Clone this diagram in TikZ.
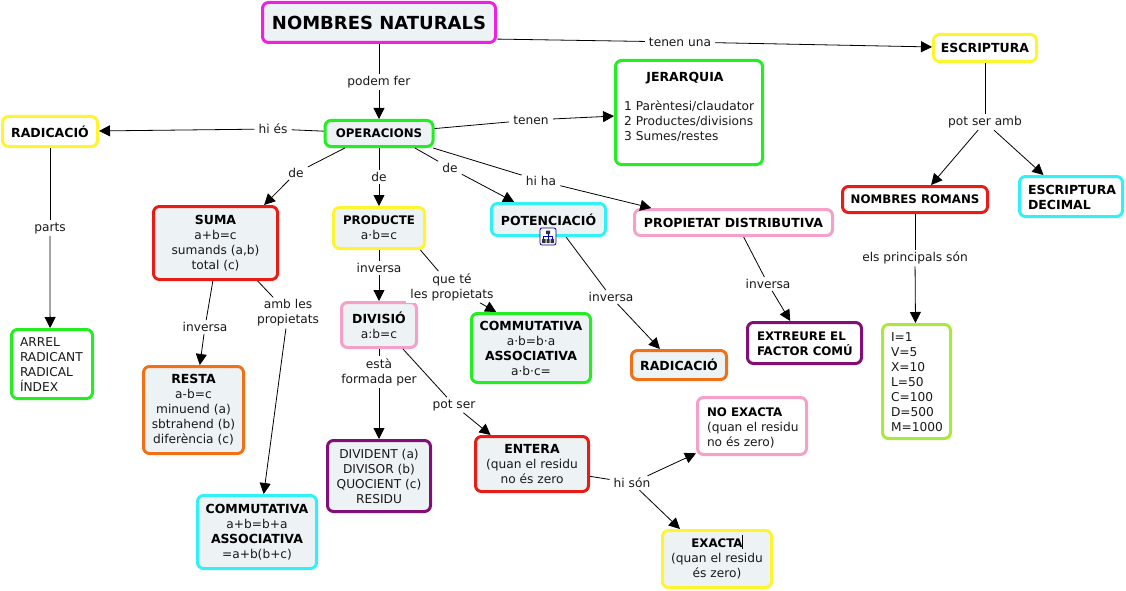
\documentclass[tikz,border=0pt]{standalone}
\usepackage{fontspec}
\setmainfont{DejaVu Sans}
\usetikzlibrary{arrows.meta}
\definecolor{bgbox}{HTML}{EDF2F5}
\definecolor{cMag}{HTML}{F020E0}
\definecolor{cGreen}{HTML}{22EE22}
\definecolor{cYel}{HTML}{FFF430}
\definecolor{cRed}{HTML}{E81C14}
\definecolor{cCyan}{HTML}{30F0F8}
\definecolor{cPink}{HTML}{F4A0C8}
\definecolor{cOra}{HTML}{F07018}
\definecolor{cPur}{HTML}{800F78}
\definecolor{cLime}{HTML}{A8E840}
\tikzset{
  box/.style={draw=#1,fill=bgbox,line width=3pt,rounded corners=6pt,inner sep=0pt,align=center,
    font=\fontsize{12.2}{15}\selectfont,text=black!90,outer sep=1.5pt},
  wbox/.style={box=#1,fill=white},
  sz/.style 2 args={minimum width=#1pt-3pt,minimum height=#2pt-3pt},
  lbl/.style={fill=white,inner xsep=4pt,inner ysep=2pt,align=center,font=\fontsize{12.2}{15}\selectfont,text=black!90},
  con/.style={line width=0.8pt,black},
  arr/.style={line width=0.8pt,black,-{Triangle[length=11pt,width=11pt]}},
}
\newcommand{\hd}[1]{{\fontsize{12.5}{15}\selectfont\bfseries\textcolor{black}{#1}}}
\newcommand{\hds}[1]{{\fontsize{11.8}{15}\selectfont\bfseries\textcolor{black}{#1}}}
\newcommand{\lblock}[2]{\raisebox{-2pt}[\height][\depth]{\makebox[#1pt][l]{\begin{tabular}{@{}l@{}}#2\end{tabular}}}}
\begin{document}
\begin{tikzpicture}[x=1pt,y=-1pt]
\useasboundingbox (0,0) rectangle (1126,591);
% nodes
\node[box=cMag,sz={236}{43},font=\fontsize{18}{22}\selectfont\bfseries,text=black] (nn) at (379,22.5) {NOMBRES NATURALS};
\node[box=cGreen,sz={111}{29}] (op) at (379,133.5) {\hds{OPERACIONS}};
\node[wbox=cYel,sz={98}{33}] (radl) at (50,131.5) {\hd{RADICACIÓ}};
\node[wbox=cGreen,sz={150}{107}] (jer) at (689,112.5) {};
\node[font=\fontsize{12.2}{15}\selectfont,anchor=north,inner sep=0pt] (jert) at (685,72) {\hd{JERARQUIA}};
\node[font=\fontsize{12.2}{15}\selectfont,text=black!90,anchor=north west,inner sep=0pt,align=left] (jerl) at (624,101) {1 Parèntesi/claudator\\2 Productes/divisions\\3 Sumes/restes};
\node[wbox=cYel,sz={106}{30}] (esc) at (985,48) {\hd{ESCRIPTURA}};
\node[wbox=cRed,sz={148}{29}] (rom) at (915,199.5) {\hds{NOMBRES ROMANS}};
\node[wbox=cCyan,sz={106}{43}] (dec) at (1071,196.5) {\lblock{86}{\hd{ESCRIPTURA}\\\hd{DECIMAL}}};
\node[box=cRed,sz={127}{76}] (suma) at (215.5,243) {\hd{SUMA}\\a+b=c\\sumands (a,b)\\total (c)};
\node[box=cYel,sz={94}{44}] (prod) at (379,228) {\hds{PRODUCTE}\\a·b=c};
\node[box=cCyan,sz={117}{35}] (pot) at (548.5,219.5) {\hd{POTENCIACIÓ}};
\node[wbox=cPink,sz={201}{29}] (dist) at (733.5,222.5) {\fontsize{12.6}{15}\selectfont\hd{PROPIETAT DISTRIBUTIVA}};
\node[wbox=cGreen,sz={84}{72}] (arrel) at (52,364) {\lblock{64}{ARREL\\RADICANT\\RADICAL\\ÍNDEX}};
\node[box=cOra,sz={103}{90}] (resta) at (193.5,410) {\hd{RESTA}\\a-b=c\\minuend (a)\\sbtrahend (b)\\diferència (c)};
\node[box=cCyan,sz={122}{76}] (com1) at (257,532) {\hd{COMMUTATIVA}\\a+b=b+a\\\hd{ASSOCIATIVA}\\=a+b(b+c)};
\node[box=cPink,sz={78}{48}] (div) at (379,325) {\hd{DIVISIÓ}\\a:b=c};
\node[box=cGreen,sz={122}{72}] (com2) at (531,348) {\hd{COMMUTATIVA}\\a·b=b·a\\\hd{ASSOCIATIVA}\\a·b·c=};
\node[box=cPur,sz={106}{74}] (dvd) at (379,476) {DIVIDENT (a)\\DIVISOR (b)\\QUOCIENT (c)\\RESIDU};
\node[box=cRed,sz={116}{58}] (ent) at (532,464) {\hd{ENTERA}\\(quan el residu\\no és zero};
\node[box=cOra,sz={98}{32}] (radm) at (679,365) {\hd{RADICACIÓ}};
\node[wbox=cPur,sz={117}{44}] (ext) at (804.5,343) {\lblock{95}{\hds{EXTREURE EL}\\\hds{FACTOR COMÚ}}};
\node[wbox=cPink,sz={112}{60}] (nex) at (752,426) {\lblock{90}{\hds{NO EXACTA}\\(quan el residu\\no és zero)}};
\node[box=cYel,sz={112}{60}] (exa) at (717,559) {\hds{EXACTA}\\(quan el residu\\és zero)};
\node[wbox=cLime,sz={71}{117}] (num) at (916.5,381.5) {\lblock{51}{I=1\\V=5\\X=10\\L=50\\C=100\\D=500\\M=1000}};
% labels
\node[lbl] (l1) at (680,42) {tenen una};
\node[lbl] (l2) at (379,82) {podem fer};
\node[lbl] (l3) at (273,129) {hi és};
\node[lbl] (l4) at (531,120) {tenen};
\node[lbl] (l5) at (985,122) {pot ser amb};
\node[lbl] (l6) at (296,173) {de};
\node[lbl] (l7) at (379,177) {de};
\node[lbl] (l8) at (450,168) {de};
\node[lbl] (l9) at (541,181) {hi ha};
\node[lbl] (l10) at (50,228) {parts};
\node[lbl] (l11) at (915,258) {els principals són};
\node[lbl] (l12) at (205,327) {inversa};
\node[lbl] (l13) at (288,313) {amb les\\propietats};
\node[lbl] (l14) at (379,268) {inversa};
\node[lbl] (l15) at (452,287) {que té\\les propietats};
\node[lbl] (l16) at (611,297) {inversa};
\node[lbl] (l17) at (768,284) {inversa};
\node[lbl] (l18) at (379,372) {està\\formada per};
\node[lbl] (l19) at (454,405) {pot ser};
\node[lbl] (l20) at (632,483) {hi són};
% connectors
\draw[con] (nn.-8) -- (l1);
\draw[arr] (l1) -- (esc);
\draw[con] (nn) -- (l2);
\draw[arr] (l2) -- (op);
\draw[con] (op) -- (l3);
\draw[arr] (l3) -- (radl);
\draw[con] (op) -- (l4);
\draw[arr] (l4) -- (jer);
\draw[con] (esc) -- (l5);
\draw[arr] (l5) -- (rom.42);
\draw[arr] (l5) -- (dec.142);
\draw[con] (op.-157) -- (l6);
\draw[arr] (l6) -- (suma.38);
\draw[con] (op) -- (l7);
\draw[arr] (l7) -- (prod);
\draw[con] (op.-22) -- (l8);
\draw[arr] (l8) -- (pot.153);
\draw[con] (op.-15) -- (l9);
\draw[arr] (l9) -- (dist.170);
\draw[con] (radl) -- (l10);
\draw[arr] (l10) -- (arrel.93);
\draw[con] (rom) -- (l11);
\draw[arr] (l11) -- (num.91);
\draw[con] (suma.-94) -- (l12);
\draw[arr] (l12) -- (resta.82);
\draw[con] (suma.-42) -- (l13);
\draw[arr] (l13) -- (com1.80);
\draw[con] (prod) -- (l14);
\draw[arr] (l14) -- (div);
\draw[con] (prod.-28) -- (l15);
\draw[arr] (l15) -- (com2.134);
\draw[con] (pot.-45) -- (l16);
\draw[arr] (l16) -- (radm.140);
\draw[con] (dist.-55) -- (l17);
\draw[arr] (l17) -- (ext.123);
\draw[con] (div) -- (l18);
\draw[arr] (l18) -- (dvd);
\draw[con] (div.-45) -- (l19);
\draw[arr] (l19) -- (ent.145);
\draw[con] (ent.-12) -- (l20);
\draw[arr] (l20) -- (nex.206);
\draw[arr] (l20) -- (exa.141);
% hierarchy icon
\draw[blue!60!black,fill=white,line width=0.8pt,rounded corners=2pt] (540,228) rectangle (556,245);
\fill[black!80] (546,230.5) rectangle (550,234) (542,239) rectangle (545.5,243) (546.5,239) rectangle (549.5,243) (550.5,239) rectangle (554,243);
\draw[blue!70!black,line width=0.7pt] (548,234)--(548,239) (543.7,239)--(543.7,236.5)--(552.3,236.5)--(552.3,239);
% cursor
\draw[black,line width=0.6pt] (742.5,535) -- (742.5,549);
\end{tikzpicture}
\end{document}
